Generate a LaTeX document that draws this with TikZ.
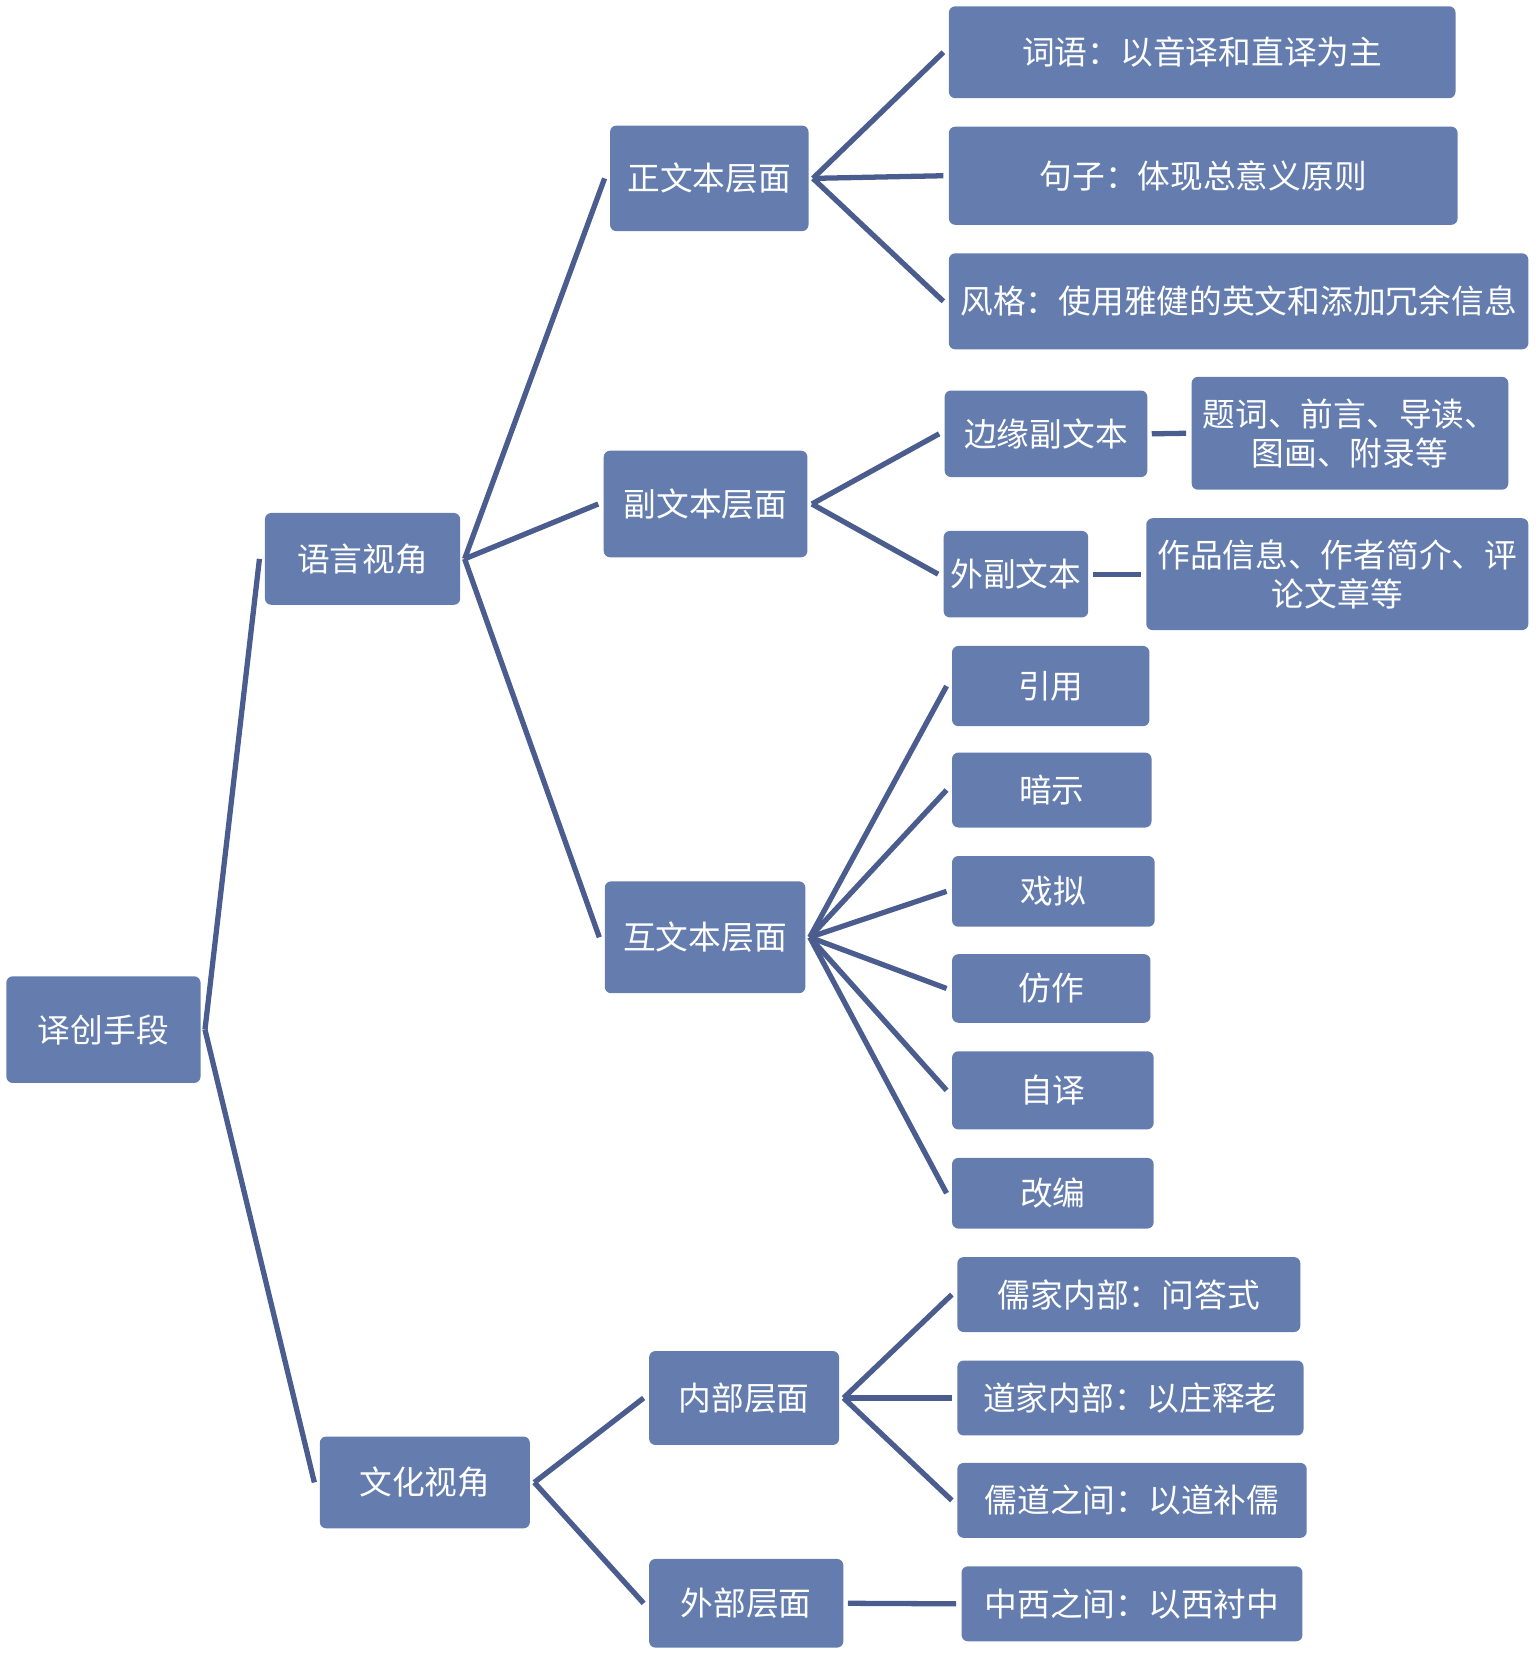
\documentclass[tikz,border=0pt]{standalone}
\usepackage{fontspec}
\newfontfamily\cjk{Noto Sans CJK SC}
\definecolor{boxfill}{RGB}{100,125,174}
\definecolor{linkcol}{RGB}{74,93,142}
\begin{document}
\begin{tikzpicture}[x=1pt,y=-1pt,
  nbox/.style={fill=boxfill, rounded corners=6pt, inner sep=0pt, align=center,
    text=white, font=\cjk\fontsize{31}{37}\selectfont},
  link/.style={draw=linkcol, line width=5pt}]
\useasboundingbox (0,0) rectangle (1455,1568);
\newcommand{\bx}[6]{\node[nbox, minimum width=#4-#2, minimum height=#5-#3] (#1) at ({(#2+#4)/2},{(#3+#5)/2}) {#6};}
% level 0
\bx{root}{6}{925}{190}{1026}{译创手段}
% level 1
\bx{lang}{251}{486}{436}{573}{语言视角}
\bx{cult}{303}{1361}{502}{1448}{文化视角}
% level 2
\bx{zheng}{578}{119}{766}{219}{正文本层面}
\bx{fu}{572}{427}{765}{528}{副文本层面}
\bx{hu}{573}{835}{763}{941}{互文本层面}
\bx{nei}{615}{1280}{795}{1369}{内部层面}
\bx{wai}{615}{1477}{799}{1561}{外部层面}
% level 3
\bx{ciyu}{899}{6}{1379}{93}{词语：以音译和直译为主}
\bx{juzi}{899}{120}{1381}{213}{句子：体现总意义原则}
\bx{fengge}{899}{240}{1448}{331}{风格：使用雅健的英文和添加冗余信息}
\bx{bianyuan}{895}{370}{1087}{452}{边缘副文本}
\bx{tici}{1129}{357}{1429}{464}{题词、前言、导读、\\图画、附录等}
\bx{waifu}{894}{503}{1031}{585}{外副文本}
\bx{zuopin}{1086}{491}{1448}{597}{作品信息、作者简介、评\\论文章等}
\bx{yinyong}{902}{612}{1089}{688}{引用}
\bx{anshi}{902}{713}{1091}{784}{暗示}
\bx{xini}{902}{811}{1094}{878}{戏拟}
\bx{fangzuo}{902}{904}{1090}{969}{仿作}
\bx{ziyi}{902}{996}{1093}{1070}{自译}
\bx{gaibian}{902}{1097}{1093}{1164}{改编}
\bx{rujia}{907}{1191}{1232}{1262}{儒家内部：问答式}
\bx{daojia}{907}{1289}{1235}{1360}{道家内部：以庄释老}
\bx{rudao}{907}{1386}{1238}{1457}{儒道之间：以道补儒}
\bx{zhongxi}{911}{1484}{1234}{1555}{中西之间：以西衬中}
% connectors
\foreach \a/\b in {root/lang, root/cult, lang/zheng, lang/fu, lang/hu,
  zheng/ciyu, zheng/juzi, zheng/fengge, fu/bianyuan, fu/waifu,
  bianyuan/tici, waifu/zuopin,
  hu/yinyong, hu/anshi, hu/xini, hu/fangzuo, hu/ziyi, hu/gaibian,
  cult/nei, cult/wai, nei/rujia, nei/daojia, nei/rudao, wai/zhongxi}
  \draw[link] ([xshift=4pt]\a.east) -- ([xshift=-5pt]\b.west);
\end{tikzpicture}
\end{document}
